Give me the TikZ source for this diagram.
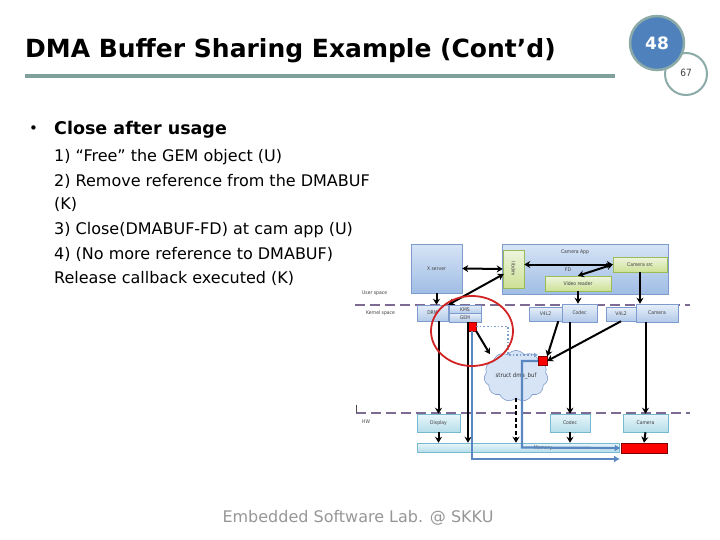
\documentclass[tikz,border=0pt]{standalone}
\usepackage{fontspec}
\setmainfont{DejaVu Sans}
\newfontfamily\condf{DejaVu Sans Condensed}
\usetikzlibrary{shapes.symbols,shapes.geometric,arrows.meta,calc}
\definecolor{barcol}{RGB}{127,160,156}
\definecolor{badge}{RGB}{79,129,189}
\definecolor{ring}{RGB}{140,170,168}
\definecolor{dashc}{RGB}{125,107,147}
\definecolor{bluel}{RGB}{214,228,246}
\definecolor{blued}{RGB}{160,189,228}
\definecolor{blueb}{RGB}{125,155,205}
\definecolor{greenl}{RGB}{238,245,222}
\definecolor{greend}{RGB}{205,225,150}
\definecolor{greenb}{RGB}{155,187,89}
\definecolor{cyanl}{RGB}{232,246,250}
\definecolor{cyand}{RGB}{183,222,235}
\definecolor{cyanb}{RGB}{120,185,210}
\definecolor{steel}{RGB}{91,135,192}
\definecolor{redc}{RGB}{210,35,35}
\definecolor{ftgray}{RGB}{150,150,150}
\begin{document}
\begin{tikzpicture}[x=1pt,y=-1pt,
  tinyt/.style={font=\condf\fontsize{5}{6}\selectfont, text=black!75},
  ubox/.style={draw=blueb, line width=0.5pt, top color=bluel, bottom color=blued, inner sep=0pt, tinyt},
  gbox/.style={draw=greenb, line width=0.5pt, top color=greenl, bottom color=greend, inner sep=0pt, tinyt},
  kbox/.style={draw=blueb, line width=0.5pt, top color=bluel!60, bottom color=blued!80, inner sep=0pt, tinyt},
  hbox/.style={draw=cyanb, line width=0.5pt, top color=cyanl, bottom color=cyand, inner sep=0pt, tinyt},
  rsq/.style={draw=red!55!black, fill=red, line width=0.4pt, minimum size=9pt, inner sep=0pt},
  arr/.style={-{Stealth[length=6pt,width=7pt]}, line width=2pt, black},
  darr/.style={{Stealth[length=6pt,width=7pt]}-{Stealth[length=6pt,width=7pt]}, line width=2pt, black},
  barr/.style={steel, line width=2.2pt, -{Latex[length=6pt,width=7pt]}},
  sepline/.style={dashc, line width=2.6pt, dash pattern=on 10pt off 5pt},
  body/.style={anchor=base west, inner sep=0pt, font=\fontsize{16}{19}\selectfont}
]
\useasboundingbox (0,0) rectangle (720,540);

% ---------- title ----------
\node[anchor=base west, inner sep=0pt, font=\fontsize{25}{30}\selectfont\bfseries] (title) at (25,58) {DMA Buffer Sharing Example (Cont’d)};
\node[fill=barcol, minimum width=590pt, minimum height=4pt, inner sep=0pt] (bar) at (320,76) {};

% ---------- badge ----------
\node[circle, draw=ring, line width=2pt, fill=white, minimum size=42pt, inner sep=0pt] (pg2) at (686,74) {};
\node[inner sep=0pt, font=\condf\fontsize{10}{12}\selectfont, text=black!75] (pg2t) at (686,73) {67};
\node[circle, draw=ring, line width=2.5pt, fill=badge, minimum size=54pt, inner sep=0pt, text=white, font=\fontsize{17}{20}\selectfont\bfseries] (pg1) at (657,43) {48};

% ---------- text ----------
\node[anchor=base west, inner sep=0pt, font=\fontsize{15}{18}\selectfont] (bul) at (29,134) {•};
\node[anchor=base west, inner sep=0pt, font=\fontsize{17.5}{20}\selectfont\bfseries] (head) at (54,135) {Close after usage};
\node[body] (l1) at (54,162) {1) “Free” the GEM object (U)};
\node[body] (l2) at (54,187) {2) Remove reference from the DMABUF};
\node[body] (l3) at (54,210) {(K)};
\node[body] (l4) at (54,235) {3) Close(DMABUF-FD) at cam app (U)};
\node[body] (l5) at (54,259) {4) (No more reference to DMABUF)};
\node[body] (l6) at (54,283) {Release callback executed (K)};

% ---------- footer ----------
\node[inner sep=0pt, anchor=base, font=\fontsize{16}{19}\selectfont, text=ftgray] (foot) at (358,522) {Embedded Software Lab. @ SKKU};

% ---------- diagram: user space ----------
\node[ubox, minimum width=51pt, minimum height=49pt] (xs) at (436.5,268.5) {X server};
\node[ubox, minimum width=166pt, minimum height=50pt] (camapp) at (585,269) {};
\node[tinyt, inner sep=0pt] (camlbl) at (575,252) {Camera App};
\node[gbox, minimum width=21pt, minimum height=38pt] (libdrm) at (513.5,269) {};
\node[tinyt, inner sep=0pt, rotate=-90] (libdrmt) at (513.5,269) {libdrm};
\node[gbox, minimum width=54pt, minimum height=15pt] (camsrc) at (640,264.5) {Camera src};
\node[gbox, minimum width=66pt, minimum height=15pt] (vreader) at (578,283.5) {Video reader};
\node[tinyt, inner sep=0pt] (fd) at (568,270) {FD};

% separators
\coordinate (s1a) at (355,305);
\coordinate (s1b) at (690,305);
\coordinate (s2a) at (356,413);
\coordinate (s2b) at (690,413);
\coordinate (tick) at (356,405);
\draw[sepline] (s1a) -- (s1b);
\draw[sepline] (s2a) -- (s2b);
\draw[black!70, line width=0.6pt] (tick) -- (s2a);
\node[tinyt, inner sep=0pt, anchor=west] (usp) at (362,293) {User space};
\node[tinyt, inner sep=0pt, anchor=west] (ksp) at (366,313) {Kernel space};
\node[tinyt, inner sep=0pt, anchor=west] (hw) at (362,422) {HW};

% ---------- kernel ----------
\node[kbox, minimum width=31pt, minimum height=16pt] (drm) at (432.5,313) {DRM};
\node[kbox, minimum width=32pt, minimum height=8.5pt] (kms) at (465,309.3) {KMS};
\node[kbox, minimum width=32pt, minimum height=8.5pt] (gem) at (465,317.8) {GEM};
\node[kbox, minimum width=33pt, minimum height=14pt] (v4la) at (545.5,314) {V4L2};
\node[kbox, minimum width=35pt, minimum height=18pt] (codk) at (579.5,313) {Codec};
\node[kbox, minimum width=30pt, minimum height=14pt] (v4lb) at (621,314) {V4L2};
\node[kbox, minimum width=42pt, minimum height=18pt] (camk) at (657,313) {Camera};

% ---------- HW ----------
\node[hbox, minimum width=43pt, minimum height=18pt] (disp) at (438.5,423) {Display};
\node[hbox, minimum width=40pt, minimum height=18pt] (codh) at (570,423) {Codec};
\node[hbox, minimum width=45pt, minimum height=18pt] (camh) at (645.5,423) {Camera};
\node[hbox, minimum width=202pt, minimum height=9pt] (mem) at (518,447.5) {};
\node[tinyt, inner sep=0pt] (memlbl) at (543,448) {Memory};
\node[draw=red!50!black, fill=red, line width=0.5pt, minimum width=46pt, minimum height=10pt, inner sep=0pt] (redbar) at (644,448) {};

% cloud
\node[cloud, cloud puffs=11, cloud puff arc=110, aspect=1.3, draw=blueb, line width=0.6pt, fill=bluel, minimum width=64pt, minimum height=50pt, inner sep=0pt, font=\condf\fontsize{6}{7}\selectfont, text=black!80] (cloud) at (516,376) {struct dma\_buf};

% red squares
\node[rsq] (rsq1) at (471.5,326.5) {};
\node[rsq] (rsq2) at (542.5,361) {};

% ---------- user-space arrows ----------
\draw[darr] (xs.east) -- (libdrm.west);
\draw[darr] (libdrm.east |- camsrc.west) -- (camsrc.west);
\draw[darr] (vreader.north) -- (camsrc.west);
\coordinate (ldl) at ($(libdrm.west)+(1,5)$);
\draw[darr] (ldl) -- (drm.north east);
\draw[arr] (xs.south) -- (xs.south |- drm.north);
\draw[arr] (vreader.south) -- (vreader.south |- codk.north);
\draw[arr] (camsrc.south) -- (camsrc.south |- camk.north);

% ---------- kernel arrows ----------
\coordinate (drmdown) at (disp.north |- drm.south);
\draw[arr] (drmdown) -- (disp.north);
\coordinate (gemdown) at ($(gem.south)+(3,0)$);
\draw[arr] (gemdown) -- (gemdown |- mem.north);
\coordinate (codkdown) at (codh.north |- codk.south);
\draw[arr] (codkdown) -- (codh.north);
\coordinate (camkdown) at (camh.north |- camk.south);
\draw[arr] (camkdown) -- (camh.north);
\draw[arr] (rsq1.south east) -- ($(cloud.north)+(-26,4)$);
\coordinate (v4laout) at ($(v4la.south east)+(-4,0)$);
\draw[arr] (v4laout) -- (rsq2.north east);
\draw[arr] (v4lb.south) -- (rsq2.east);
\draw[arr, dash pattern=on 4pt off 2.5pt] (cloud.south) -- (cloud.south |- mem.north);

% HW arrows
\draw[arr] (disp.south) -- (disp.south |- mem.north);
\draw[arr] (codh.south) -- (codh.south |- mem.north);
\draw[arr] (camh.south) -- (redbar.north);

% blue mapping paths
\coordinate (b1a) at (472,331);
\coordinate (b1b) at (472,459);
\coordinate (b1c) at (620,459);
\draw[barr] (b1a) -- (b1b) -- (b1c);
\coordinate (b2a) at (522,361);
\coordinate (b2b) at (522,447.5);
\draw[barr] (rsq2.west) -- (b2a) -- (b2b) -- (redbar.west);
\coordinate (d1) at (508,326.5);
\coordinate (d2) at (508,355);
\coordinate (d3) at (538,355);
\draw[steel!80, line width=1.6pt, dotted, -{Latex[length=4pt,width=5pt]}] (rsq1.east) -- (d1) -- (d2) -- (d3);

% red circle
\node[ellipse, draw=redc, line width=1.8pt, minimum width=82pt, minimum height=70pt, inner sep=0pt] (circ) at (472,331) {};
\end{tikzpicture}
\end{document}
